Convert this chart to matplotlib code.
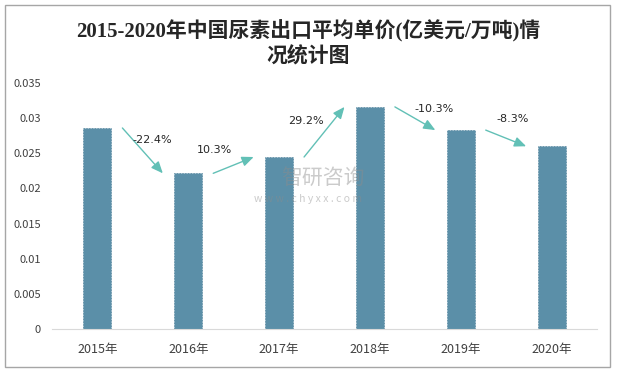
import matplotlib
matplotlib.use("Agg")
import matplotlib.pyplot as plt
from matplotlib.patches import Rectangle

plt.rcParams['font.family'] = ['Noto Sans CJK SC', 'DejaVu Sans']

# data
years = ["2015年", "2016年", "2017年", "2018年", "2019年", "2020年"]
prices = [0.0286, 0.02215, 0.02447, 0.0316, 0.0283, 0.0260]
changes = ["-22.4%", "10.3%", "29.2%", "-10.3%", "-8.3%"]
yticks = [0, 0.005, 0.01, 0.015, 0.02, 0.025, 0.03, 0.035]
ytick_labels = ["0", "0.005", "0.01", "0.015", "0.02", "0.025", "0.03", "0.035"]

title = "2015-2020年中国尿素出口平均单价(亿美元/万吨)情\n况统计图"

# label offsets from arrow midpoints (points)
label_off = [(7, 8), (-14, 11), (-13, 8), (14, 7), (5, 14)]

fig = plt.figure(figsize=(6.17, 3.71), dpi=100)
ax = fig.add_axes([52 / 617, 1 - 329 / 371, 545 / 617, 246 / 371])

x = range(len(years))
ax.bar(x, prices, width=0.31, color="#5B8FA8", edgecolor="#52839B",
       linewidth=0.5, linestyle=(0, (2, 2)), zorder=2)

ax.set_xlim(-0.5, len(years) - 0.5)
ax.set_ylim(0, 0.035)
ax.set_yticks(yticks)
ax.set_yticklabels(ytick_labels)
ax.set_xticks(list(x))
ax.set_xticklabels(years)
ax.tick_params(axis="y", length=0, pad=8, labelsize=8, labelcolor="#404040")
ax.tick_params(axis="x", length=0, pad=10, labelsize=9, labelcolor="#404040")
for s in ["top", "right", "left"]:
    ax.spines[s].set_visible(False)
ax.spines["bottom"].set_color("#D9D9D9")

# change arrows
for i in range(len(changes)):
    x0, y0 = i + 0.275, prices[i]
    x1, y1 = i + 1 - 0.28, prices[i + 1]
    ax.annotate("", xy=(x1, y1), xytext=(x0, y0),
                arrowprops=dict(arrowstyle="-|>,head_length=0.7,head_width=0.3",
                                color="#62C0B6", lw=1.0, shrinkA=0, shrinkB=0),
                zorder=3)
    ax.annotate(changes[i], xy=((x0 + x1) / 2, (y0 + y1) / 2),
                xytext=label_off[i], textcoords="offset points",
                ha="center", va="center", fontsize=8, color="#262626",
                family=["DejaVu Sans"])

# watermark
fig.text(323 / 617, 1 - 178 / 371, "智研咨询", fontsize=15, color="#8C8C8C",
         alpha=0.45, ha="center", va="center", zorder=5)
fig.text(308 / 617, 1 - 199 / 371, "w w w . c h y x x . c o m", fontsize=7.5,
         color="#8C8C8C", alpha=0.45, ha="center", va="center", zorder=5)

fig.text(0.5, 1 - 44 / 371, title, ha="center", va="center", fontsize=15,
         fontweight="bold", color="#262626", linespacing=1.32,
         family=["Liberation Serif", "Noto Sans CJK SC"])

fig.patches.append(Rectangle((5 / 617, 1 - 367 / 371), 605 / 617, 362 / 371,
                             transform=fig.transFigure, fill=False,
                             edgecolor="#A6A6A6", linewidth=1))

fig.savefig("out.png", dpi=100)
